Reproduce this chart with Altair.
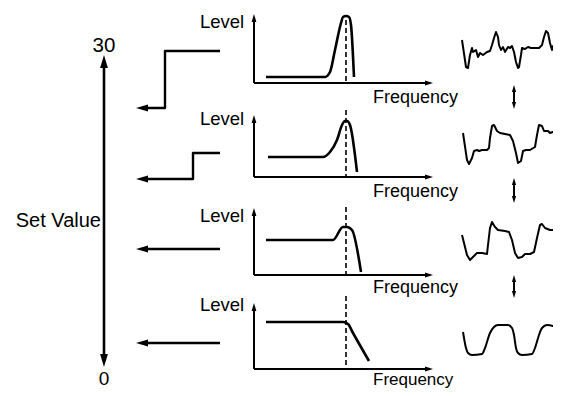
import altair as alt
import pandas as pd

# ---------------- data ----------------
# Set Value scale end labels
set_value_top, set_value_bottom = "30", "0"
set_value_title = "Set Value"

# Frequency-response curves, one per row (freq offset from axis origin, level above the axis)
resp_freq = [
    [12, 71, 76, 81, 87, 89, 92, 95, 97, 100],
    [14, 69, 76, 83, 88, 91, 93, 96, 103],
    [12, 79, 89, 93, 98, 107],
    [12, 89, 94, 99, 115],
]
resp_level = [
    [6, 6, 11, 33, 60, 66, 67, 66, 58, 6],
    [20, 20, 25, 37, 52, 56, 56, 52, 5],
    [35, 35, 48, 48, 45, 3],
    [47, 47, 45, 36, 8],
]

# Output waveforms, one per row (time, signal)
wave_t = [
    [462, 466, 468, 470, 472, 473, 476, 478, 480, 483, 487, 490, 492, 494, 496, 498, 499, 501, 503, 505,
     508, 510, 512, 514, 516, 518, 519, 521, 522, 525, 528, 531, 535, 539, 542, 544, 546, 548, 550, 552,
     553, 555, 557, 559],
    [463, 467, 469, 472, 474, 477, 479, 482, 487, 489, 490, 492, 494, 497, 500, 505, 510, 513, 516, 518,
     521, 523, 526, 530, 535, 537, 539, 542, 544, 548, 550, 553, 557, 560],
    [462, 467, 470, 473, 477, 482, 487, 488, 490, 492, 495, 498, 505, 509, 512, 515, 518, 522, 525, 530,
     534, 537, 540, 542, 545, 550, 555, 558, 561],
    [463, 466, 468, 472, 482, 485, 490, 494, 498, 508, 512, 514, 516, 518, 522, 532, 535, 539, 542, 547,
     553, 557, 559, 561],
]
wave_v = [
    [40, 67, 68, 55, 48, 52, 50, 57, 53, 55, 52, 51, 45, 38, 32, 37, 45, 50, 47, 52,
     47, 48, 46, 52, 62, 68, 67, 55, 48, 49, 47, 48, 48, 48, 45, 37, 31, 33, 43, 50,
     46, 48, 47, 49],
    [133, 160, 164, 158, 151, 150, 151, 150, 150, 148, 138, 126, 125, 131, 133, 134, 135, 141, 153, 163,
     161, 151, 150, 150, 147, 135, 125, 126, 131, 131, 133, 132, 135, 136],
    [235, 255, 260, 257, 253, 253, 254, 245, 228, 222, 227, 230, 231, 232, 240, 253, 258, 257, 254, 254,
     252, 238, 225, 224, 228, 230, 230, 233, 245],
    [332, 348, 353, 355, 354, 348, 333, 327, 325, 325, 328, 335, 348, 353, 355, 354, 348, 335, 328, 325,
     326, 330, 335, 340],
]

# Set-value step inputs (x, y polyline per row)
step_x = [[220, 165, 165, 142], [220, 193, 193, 142], [220, 142], [220, 142]]
step_y = [[51, 51, 108, 108], [153, 153, 179, 179], [249, 249], [343, 343]]

axis_label_y = "Level"
axis_label_x = "Frequency"

# ---------------- layout ----------------
X_MIN, X_MAX = 8, 553
Y_MIN, Y_MAX = 8, 388
panel_x0, panel_x1, cutoff_x = 254, 433, 346
panel_base = [83, 177, 275, 369]
panel_top = [14, 115, 208, 303]
dash_top = [20, 110, 207, 296]
level_base = [28, 125, 222, 311]
freq_base = [103, 197, 293, 384.5]
freq_size = [18, 18, 18, 17]
arrow_x, arrow_top, arrow_bot = 104, 55, 367
step_tip_x = 136
dbl_x = 514
dbl_tips = [(85, 109), (178, 203), (275, 298)]

xs = alt.Scale(domain=[X_MIN, X_MAX], nice=False, zero=False)
ys = alt.Scale(domain=[Y_MIN, Y_MAX], nice=False, zero=False, reverse=True)

lin_rows, mono_rows, heads, rules = [], [], [], []


def add_line(rows, pid, xs_, ys_, w):
    for i, (a, b) in enumerate(zip(xs_, ys_)):
        rows.append({"x": a, "y": b, "id": pid, "o": i, "w": w})


def add_head(x, y, angle, length):
    heads.append({"x": x, "y": y, "a": angle, "s": 4 * length * length})


# big Set Value arrow
add_line(lin_rows, "big", [arrow_x, arrow_x], [arrow_top + 6, arrow_bot - 6], 2.6)
add_head(arrow_x, arrow_top, 0, 13)
add_head(arrow_x, arrow_bot, 180, 13)

for r in range(4):
    # steps
    add_line(lin_rows, f"step{r}", step_x[r], step_y[r], 2.4)
    add_head(step_tip_x, step_y[r][-1], 270, 12)
    # axes
    b = panel_base[r]
    add_line(lin_rows, f"yax{r}", [panel_x0, panel_x0], [b, panel_top[r] + 4], 2.0)
    add_line(lin_rows, f"xax{r}", [panel_x0, panel_x1 - 4], [b, b], 2.0)
    add_head(panel_x0, panel_top[r], 0, 8)
    add_head(panel_x1, b, 90, 8)
    rules.append({"x": cutoff_x, "y": dash_top[r], "y2": b})
    # response curve
    add_line(mono_rows, f"resp{r}", [panel_x0 + f for f in resp_freq[r]],
             [b - v for v in resp_level[r]], 2.6)
    # waveform
    if r < 3:
        add_line(lin_rows, f"wave{r}", wave_t[r], wave_v[r], 2.0)
    else:
        add_line(mono_rows, f"wave{r}", wave_t[r], wave_v[r], 2.0)

for i, (t0, t1) in enumerate(dbl_tips):
    add_line(lin_rows, f"dbl{i}", [dbl_x, dbl_x], [t0 + 4, t1 - 4], 2.0)
    add_head(dbl_x, t0, 0, 7)
    add_head(dbl_x, t1, 180, 7)

FONT = "Liberation Sans"
texts_left = pd.DataFrame(
    [{"x": 200, "y": level_base[r], "t": axis_label_y, "fs": 18.5} for r in range(4)]
    + [{"x": 373, "y": freq_base[r], "t": axis_label_x, "fs": freq_size[r]} for r in range(4)]
)
texts_center = pd.DataFrame([
    {"x": arrow_x, "y": 52, "t": set_value_top, "fs": 20.5},
    {"x": arrow_x, "y": 384.5, "t": set_value_bottom, "fs": 19},
])
texts_right = pd.DataFrame([{"x": 101, "y": 227, "t": set_value_title, "fs": 20}])

enc_xy = dict(
    x=alt.X("x:Q", scale=xs, axis=None),
    y=alt.Y("y:Q", scale=ys, axis=None),
)


def line_layer(rows, interp):
    return alt.Chart(pd.DataFrame(rows)).mark_line(
        color="black", interpolate=interp, strokeCap="butt", strokeJoin="round"
    ).encode(
        detail="id:N",
        order="o:Q",
        strokeWidth=alt.StrokeWidth("w:Q", scale=None),
        **enc_xy,
    )


dash_layer = alt.Chart(pd.DataFrame(rules)).mark_rule(
    color="black", strokeDash=[5, 3], strokeWidth=1.6
).encode(y2="y2:Q", **enc_xy)

head_layer = alt.Chart(pd.DataFrame(heads)).mark_point(
    filled=True, shape="M0,0L0.3,1L-0.3,1Z", color="black", opacity=1, strokeWidth=0
).encode(
    size=alt.Size("s:Q", scale=None),
    angle=alt.Angle("a:Q", scale=None),
    **enc_xy,
)


def text_layer(df, align):
    return alt.Chart(df).mark_text(
        align=align, baseline="alphabetic", font=FONT, color="black"
    ).encode(text="t:N", size=alt.Size("fs:Q", scale=None), **enc_xy)


chart = alt.layer(
    line_layer(lin_rows, "linear"),
    line_layer(mono_rows, "monotone"),
    dash_layer,
    head_layer,
    text_layer(texts_left, "left"),
    text_layer(texts_center, "center"),
    text_layer(texts_right, "right"),
).properties(
    width=X_MAX - X_MIN,
    height=Y_MAX - Y_MIN,
    padding=0,
    autosize=alt.AutoSizeParams(type="none"),
    background="white",
).configure_view(stroke=None)

chart.save("out.html", embed_options={"renderer": "svg", "actions": False})
